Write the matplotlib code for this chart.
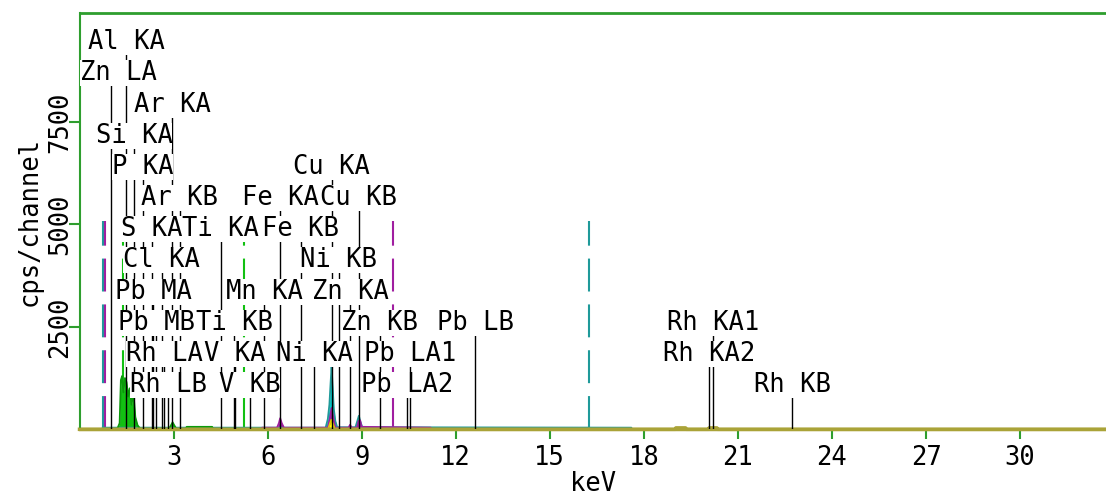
import numpy as np
import matplotlib
matplotlib.use('Agg')
import matplotlib.pyplot as plt
import matplotlib.ticker as plticker

plt.rcParams['font.family'] = ['DejaVu Sans Mono']

AX_GREEN = '#2e9e2e'
OLIVE = '#aaa338'
TEAL = '#1f9a9a'
CYAN = '#00d0d0'
MAGENTA = '#a01ea0'
LIME = '#12c012'
YELLOW = '#ffff00'

# Element lines: label, energy (keV), marker height (cps)
line_names = ['Al KA', 'Zn LA', 'Ar KA', 'Si KA',
              'P KA', 'Cu KA',
              'Ar KB', 'Fe KA', 'Cu KB',
              'S KA', 'Ti KA', 'Fe KB',
              'Cl KA', 'Ni KB',
              'Pb MA', 'Mn KA', 'Zn KA',
              'Pb MB', 'Ti KB', 'Zn KB', 'Pb LB', 'Rh KA1',
              'Rh LA', 'V KA', 'Ni KA', 'Pb LA1', 'Rh KA2',
              'Rh LB', 'V KB', 'Pb LA2', 'Rh KB']
line_energy = [1.487, 1.012, 2.957, 1.740,
               2.013, 8.046,
               3.190, 6.404, 8.905,
               2.308, 4.511, 7.058,
               2.622, 8.265,
               2.345, 5.899, 8.638,
               2.443, 4.932, 9.572, 12.614, 20.216,
               2.697, 4.952, 7.478, 10.551, 20.074,
               2.834, 5.427, 10.449, 22.724]
line_height = [9440, 8680, 7920, 7160,
               6400, 6400,
               5640, 5640, 5640,
               4880, 4880, 4880,
               4120, 4120,
               3360, 3360, 3360,
               2600, 2600, 2600, 2600, 2600,
               1840, 1840, 1840, 1840, 1840,
               1080, 1080, 1080, 1080]

# Spectra (keV, cps)
teal_e = [0.74, 7.85, 7.92, 7.97, 8.01, 8.04, 8.07, 8.11, 8.16, 8.22,
          8.80, 8.86, 8.91, 8.96, 9.02, 17.60, 17.62]
teal_c = [40, 40, 250, 600, 1150, 1530, 1100, 500, 200, 50,
          50, 200, 330, 180, 50, 40, 0]

mag_e = [0.81, 5.78, 5.82, 6.30, 6.36, 6.40, 6.45, 6.52, 7.92, 7.98,
         8.04, 8.10, 8.16, 8.58, 8.63, 8.68, 8.85, 8.90, 8.95, 9.00,
         11.20, 11.22]
mag_c = [0, 0, 40, 40, 150, 270, 150, 40, 40, 250,
         520, 250, 40, 40, 110, 40, 40, 200, 220, 60,
         40, 0]

yellow_e = [7.93, 7.98, 8.03, 8.09, 8.14]
yellow_c = [0, 120, 230, 120, 0]

green_e = [1.20, 1.28, 1.32, 1.36, 1.40, 1.45, 1.50, 1.55, 1.60, 1.66,
           1.72, 1.78, 1.85, 1.95, 2.85, 2.92, 2.97, 3.02, 3.10, 3.38,
           3.42, 4.23, 4.27]
green_c = [0, 150, 1200, 1300, 900, 1250, 1150, 800, 1000, 600,
           900, 300, 100, 0, 0, 100, 170, 100, 0, 0,
           60, 60, 0]

olive_e = [0.0, 19.00, 19.02, 19.33, 19.35, 20.06, 20.08, 20.33, 20.35, 33.0]
olive_c = [0, 0, 35, 35, 0, 0, 35, 35, 0, 0]

# Region markers (dashed), one pair per spectrum
roi_energy = [0.74, 16.25, 0.81, 10.0, 1.38, 5.25]
roi_color = [TEAL, TEAL, MAGENTA, MAGENTA, LIME, LIME]
roi_height = 5090

x_ticks = [3, 6, 9, 12, 15, 18, 21, 24, 27, 30]
y_ticks = [2500, 5000, 7500]

FS = 18.4

fig = plt.figure(figsize=(11.06, 4.97), dpi=100)
ax = fig.add_axes([79.5 / 1106, 1 - 429.3 / 497, 1 - 79.5 / 1106, (429.3 - 12.7) / 497])

x_max = (1106 - 79.3) / 31.36
ax.set_xlim(0, x_max)
ax.set_ylim(0, (429.3 - 12.7) / 102.5 * 2500)

# spectra
for e, c, face, edge in [(teal_e, teal_c, CYAN, TEAL),
                         (mag_e, mag_c, MAGENTA, MAGENTA),
                         (yellow_e, yellow_c, YELLOW, '#e0d000'),
                         (green_e, green_c, LIME, '#0a9a0a')]:
    ax.fill_between(e, 0, c, color=face, lw=0, zorder=2)
    ax.plot(e, c, color=edge, lw=1.3, zorder=2.1)

ax.plot(olive_e, olive_c, color=OLIVE, lw=2.5, zorder=2.2, clip_on=False)

# dashed region markers
for e, col in zip(roi_energy, roi_color):
    ax.plot([e, e], [0, roi_height], color=col, lw=1.5,
            linestyle=(0, (15.8, 6.2)), zorder=1.8)

# element line markers
ax.vlines(line_energy, 0, line_height, color='black', lw=1.0, zorder=3)

half_w = 15.4 / 2 / 31.36  # half character width in keV
for name, e, h in zip(line_names, line_energy, line_height):
    xc = max(e, len(name) * half_w)
    ax.text(xc, h, name, ha='center', va='center', fontsize=FS,
            color='black', zorder=5,
            bbox=dict(facecolor='white', edgecolor='none', pad=0))

# axes styling
ax.spines['right'].set_visible(False)
ax.spines['left'].set_color(AX_GREEN)
ax.spines['left'].set_linewidth(1.5)
ax.spines['top'].set_color(AX_GREEN)
ax.spines['top'].set_linewidth(2)
ax.spines['bottom'].set_color(OLIVE)
ax.spines['bottom'].set_linewidth(2.5)

ax.set_xticks(x_ticks)
ax.set_yticks(y_ticks)
ax.set_yticklabels([str(v) for v in y_ticks], rotation=90, va='center')
ax.tick_params(axis='x', colors=AX_GREEN, labelcolor='black', length=7,
               width=1.5, pad=4, labelsize=FS)
ax.tick_params(axis='y', colors=AX_GREEN, labelcolor='black', length=8,
               width=1.5, pad=-3.5, labelsize=FS)

ax.set_xlabel('keV', fontsize=FS, labelpad=0)
fig.text(30 / 1106, 1 - 221 / 497, 'cps/channel', rotation=90,
         ha='center', va='center', fontsize=FS)

fig.savefig('out.png', dpi=100)
